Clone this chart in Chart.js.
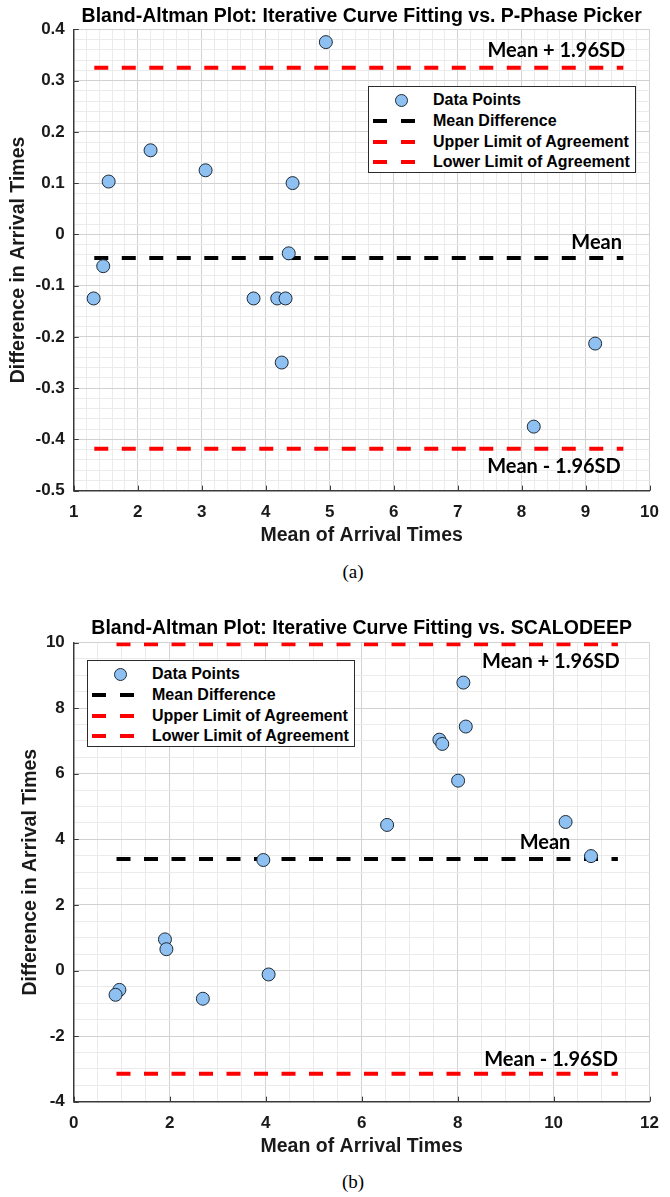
<!DOCTYPE html>
<html>
<head>
<meta charset="utf-8">
<title>Bland-Altman Plots</title>
<script src="https://cdn.jsdelivr.net/npm/chart.js@4.4.1/dist/chart.umd.min.js"></script>
<style>
  body  { margin: 0; background: #fff; }
  #page { position: relative; width: 670px; height: 1197px; overflow: hidden; }
  .panel { position: absolute; left: 0; }
  .panel canvas { display: block; }
  .legend {
    position: absolute; background: #fff; border: 1px solid #2b2b2b; box-sizing: border-box;
    padding-top: 3px; width: 268px; height: 87px;
    font: bold 16px "Liberation Sans", Arial, sans-serif; color: #000;
  }
  .legend-row  { display: flex; align-items: center; height: 20.7px; }
  .legend-sym  { position: relative; width: 56px; height: 100%; margin-left: 4px; flex: none; }
  .legend-sym .dot  { position: absolute; left: 22px; top: 50%; width: 11px; height: 11px; margin-top: -6.5px;
                      border-radius: 50%; border: 1px solid #1e2a36; }
  .legend-sym .dash { position: absolute; top: 50%; height: 4px; margin-top: -2px; width: 13.5px; }
  .legend-text { margin-left: 4px; white-space: nowrap; }
  .caption { position: absolute; left: 0; width: 706px; text-align: center; line-height: 21px;
             font: 19px "Liberation Serif", "Times New Roman", serif; }
</style>
</head>
<body>
<div id="page">
  <div class="panel" style="top:0">
    <canvas id="chart-a" width="670" height="560"></canvas>
  </div>
  <div class="legend" id="legend-a" style="left:368px; top:86px"></div>
  <div class="caption" style="top:561px">(a)</div>

  <div class="panel" style="top:610px">
    <canvas id="chart-b" width="670" height="561"></canvas>
  </div>
  <div class="legend" id="legend-b" style="left:87px; top:660px"></div>
  <div class="caption" style="top:1171px">(b)</div>
</div>

<script>
/* ── Data: panel (a) ── */
const meanA   = [4.94, 1.545, 2.20, 3.06, 4.42, 4.36, 1.46, 1.31, 3.81, 4.18, 4.31, 4.25, 9.15, 8.19];
const diffA   = [0.375, 0.103, 0.164, 0.125, 0.100, -0.037, -0.062, -0.125, -0.125, -0.125, -0.125, -0.25, -0.213, -0.375];
const levelsA = [-0.046, 0.325, -0.418];          // mean, upper LoA, lower LoA
const spanA   = [1.32, 9.59];
const xAxisA  = [1, 10, 1, 0.2];                  // min, max, major step, minor step
const yAxisA  = [-0.5, 0.4, 0.1, 0.02];
const noteXA  = [9.62, 9.57, 9.55];
const noteYA  = [0.359, -0.015, -0.453];

/* ── Data: panel (b) ── */
const meanB   = [8.12, 8.17, 7.62, 7.68, 8.01, 6.53, 10.25, 10.78, 3.95, 1.90, 1.93, 4.06, 0.95, 0.87, 2.69];
const diffB   = [8.78, 7.44, 7.04, 6.91, 5.79, 4.44, 4.53, 3.49, 3.37, 0.95, 0.65, -0.12, -0.59, -0.74, -0.86];
const levelsB = [3.40, 9.95, -3.15];
const spanB   = [0.89, 11.34];
const xAxisB  = [0, 12, 2, 0.5];
const yAxisB  = [-4, 10, 2, 0.5];
const noteXB  = [11.38, 10.35, 11.34];
const noteYB  = [9.42, 3.91, -2.71];

const noteText = ['Mean + 1.96SD', 'Mean', 'Mean - 1.96SD'];
const seriesLabels = ['Data Points', 'Mean Difference', 'Upper Limit of Agreement', 'Lower Limit of Agreement'];

Chart.defaults.font.family = '"Liberation Sans", Arial, sans-serif';

/* ── Plugins ── */
const isMajor = (v, step) => Math.abs(v / step - Math.round(v / step)) < 1e-6;

const notesPlugin = {
  id: 'notes',
  afterDatasetsDraw(chart, args, opts) {
    const { ctx, scales: { x, y } } = chart;
    ctx.save();
    ctx.font = 'bold 20px Lato, "Liberation Sans", sans-serif';
    ctx.fillStyle = '#000';
    ctx.textAlign = 'right';
    ctx.textBaseline = 'middle';
    opts.texts.forEach((t, i) => ctx.fillText(t, x.getPixelForValue(opts.xs[i]), y.getPixelForValue(opts.ys[i])));
    ctx.restore();
  }
};

// MATLAB style: short major ticks pointing into the plot
const innerTicks = {
  id: 'innerTicks',
  beforeDatasetsDraw(chart) {
    const { ctx, chartArea: a, scales: { x, y } } = chart;
    ctx.save();
    ctx.strokeStyle = '#3a3a3a';
    ctx.lineWidth = 1;
    ctx.beginPath();
    x.ticks.filter(t => t.label !== '').forEach(t => {
      const px = Math.round(x.getPixelForValue(t.value)) + 0.5;
      ctx.moveTo(px, a.bottom); ctx.lineTo(px, a.bottom - 5);
    });
    y.ticks.filter(t => t.label !== '').forEach(t => {
      const py = Math.round(y.getPixelForValue(t.value)) + 0.5;
      ctx.moveTo(a.left, py); ctx.lineTo(a.left + 5, py);
    });
    ctx.stroke();
    ctx.restore();
  }
};

/* ── Chart builder ── */
function fmt(v, step) {
  const f = step < 1 ? 10 : 1;
  return String(Math.round(v * f) / f);
}

function axis(range, opts) {
  const [min, max, major, minor] = range;
  return {
    type: 'linear', min, max,
    ticks: {
      stepSize: minor, autoSkip: false, maxRotation: 0, padding: opts.tickPad,
      color: '#1a1a1a', font: { size: 17, weight: 'bold' },
      callback: v => isMajor(v, major) ? fmt(v, major) : '',
    },
    grid: {
      drawTicks: false, lineWidth: 1,
      color: c => (c.tick && isMajor(c.tick.value, major)) ? '#d2d2d2' : '#ebebeb',
    },
    border: { color: '#3a3a3a', width: 1.5 },
    title: {
      display: true, text: opts.title, color: '#1a1a1a',
      font: { size: 19.5, weight: 'bold' }, padding: opts.titlePad,
    },
    afterFit: opts.fit,
  };
}

function buildChart(id, p) {
  const line = (i, y, color) => ({
    label: seriesLabels[i], data: p.span.map(x => ({ x, y })), showLine: true,
    borderColor: color, backgroundColor: color, borderWidth: 4, borderDash: [14, 13.5],
    pointRadius: 0, order: 2,
  });

  return new Chart(document.getElementById(id), {
    type: 'scatter',
    data: {
      datasets: [
        {
          label: seriesLabels[0], data: p.xs.map((x, i) => ({ x, y: p.ys[i] })),
          pointRadius: 6.5, pointBackgroundColor: '#8ec1f2', pointBorderColor: '#1e2a36',
          pointBorderWidth: 1, backgroundColor: '#8ec1f2', order: 1,
        },
        line(1, p.levels[0], '#000000'),
        line(2, p.levels[1], '#ff0000'),
        line(3, p.levels[2], '#ff0000'),
      ],
    },
    options: {
      responsive: false, animation: false, devicePixelRatio: 1,
      layout: { padding: { left: 0, right: 10.6, top: 0, bottom: 0 } },
      plugins: {
        legend:  { display: false },
        tooltip: { enabled: false },
        title: {
          display: true, text: p.title, fullSize: false, color: '#000',
          font: { size: 19.5, weight: 'bold' }, padding: { top: p.titlePad[0], bottom: p.titlePad[1] },
        },
        notes: { texts: noteText, xs: p.noteX, ys: p.noteY },
      },
      scales: {
        x: axis(p.xAxis, { title: 'Mean of Arrival Times', tickPad: 11,
                           titlePad: { top: 0, bottom: 12.3 }, fit: s => { s.height = 69.3; } }),
        y: axis(p.yAxis, { title: 'Difference in Arrival Times', tickPad: 9,
                           titlePad: { top: p.yTitlePad, bottom: 0 }, fit: s => { s.width = 73.8; } }),
      },
    },
    plugins: [innerTicks, notesPlugin],
  });
}

function renderLegend(el, chart) {
  el.innerHTML = chart.data.datasets.map(d => {
    const sym = d.showLine
      ? `<span class="dash" style="left:0;background:${d.borderColor}"></span>
         <span class="dash" style="left:28px;background:${d.borderColor}"></span>`
      : `<span class="dot" style="background:${d.pointBackgroundColor}"></span>`;
    return `<div class="legend-row"><span class="legend-sym">${sym}</span><span class="legend-text">${d.label}</span></div>`;
  }).join('');
}

const chartA = buildChart('chart-a', {
  title: 'Bland-Altman Plot: Iterative Curve Fitting vs. P-Phase Picker',
  xs: meanA, ys: diffA, levels: levelsA, span: spanA, xAxis: xAxisA, yAxis: yAxisA,
  noteX: noteXA, noteY: noteYA, titlePad: [5.3, 0.6], yTitlePad: 7.2,
});
const chartB = buildChart('chart-b', {
  title: 'Bland-Altman Plot: Iterative Curve Fitting vs. SCALODEEP',
  xs: meanB, ys: diffB, levels: levelsB, span: spanB, xAxis: xAxisB, yAxis: yAxisB,
  noteX: noteXB, noteY: noteYB, titlePad: [6.6, 2.6], yTitlePad: 19.2,
});

renderLegend(document.getElementById('legend-a'), chartA);
renderLegend(document.getElementById('legend-b'), chartB);
</script>
</body>
</html>
